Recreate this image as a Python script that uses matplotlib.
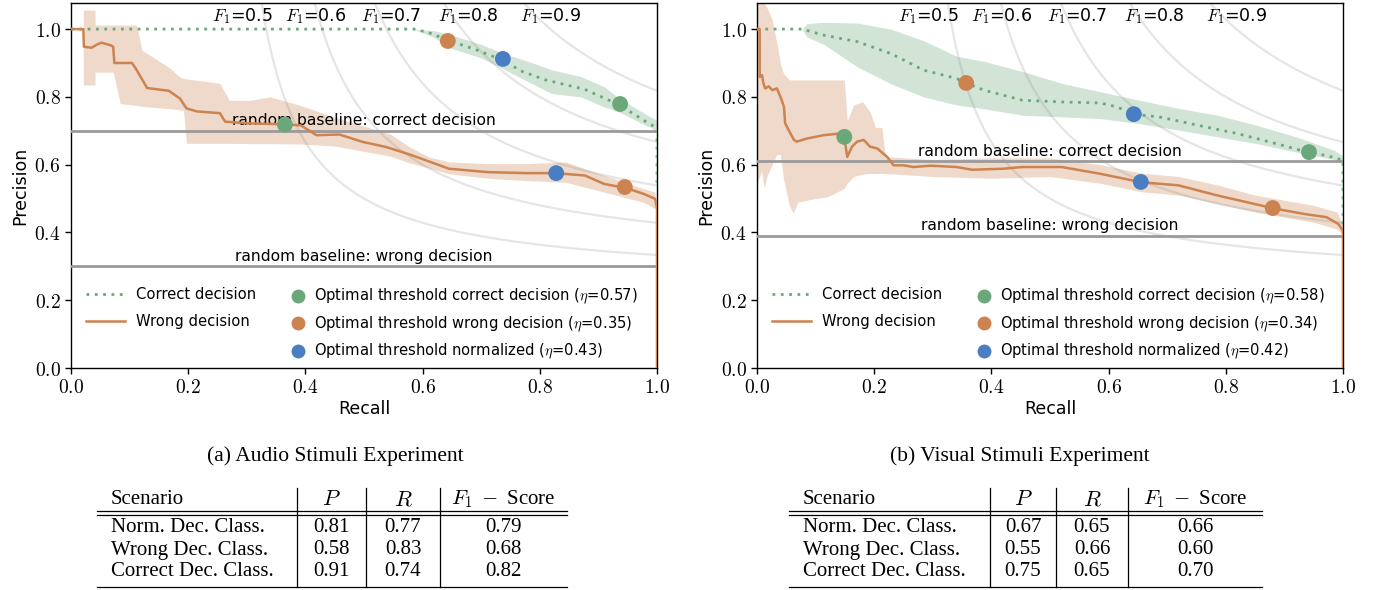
import numpy as np
import matplotlib
matplotlib.use('Agg')
import matplotlib.pyplot as plt
from matplotlib.lines import Line2D
from matplotlib.ticker import FuncFormatter

plt.rcParams['mathtext.fontset'] = 'cm'
plt.rcParams['font.family'] = ['DejaVu Sans']

GREEN = '#6aa87a'
ORANGE = '#cc8350'
BLUE = '#4a7ec2'
BASE = '#9a9a9a'

# ---------------- data: audio experiment ----------------
audio_correct_r = [0.0, 0.585, 0.61, 0.645, 0.69, 0.735, 0.77, 0.81, 0.877, 0.936, 0.977, 0.997, 1.0, 1.0]
audio_correct_p = [1.0, 1.0, 0.99, 0.966, 0.94, 0.909, 0.875, 0.85, 0.822, 0.776, 0.731, 0.711, 0.70, 0.54]
audio_correct_band_r = [0.585, 0.62, 0.645, 0.70, 0.735, 0.78, 0.82, 0.87, 0.91, 0.936, 0.97, 1.0]
audio_correct_hi = [1.0, 0.995, 0.985, 0.955, 0.93, 0.905, 0.88, 0.86, 0.83, 0.795, 0.76, 0.73]
audio_correct_lo = [1.0, 0.975, 0.945, 0.915, 0.885, 0.845, 0.81, 0.80, 0.77, 0.755, 0.725, 0.70]

audio_wrong_r = [0.0, 0.021, 0.022, 0.035, 0.045, 0.052, 0.068, 0.072, 0.074, 0.104, 0.110, 0.130,
                 0.167, 0.186, 0.197, 0.215, 0.254, 0.263, 0.300, 0.365, 0.392, 0.419, 0.458, 0.498,
                 0.538, 0.578, 0.618, 0.645, 0.711, 0.777, 0.826, 0.877, 0.910, 0.947, 0.977, 0.997,
                 1.0, 1.0]
audio_wrong_p = [1.0, 1.0, 0.948, 0.945, 0.955, 0.960, 0.952, 0.948, 0.900, 0.900, 0.885, 0.826,
                 0.818, 0.795, 0.766, 0.757, 0.752, 0.727, 0.722, 0.719, 0.716, 0.687, 0.689, 0.667,
                 0.652, 0.630, 0.605, 0.588, 0.578, 0.575, 0.575, 0.568, 0.543, 0.531, 0.514, 0.499,
                 0.47, 0.0]
audio_wrong_band_r = [0.021, 0.041, 0.041, 0.072, 0.084, 0.112, 0.121, 0.169, 0.186, 0.192, 0.197,
                      0.254, 0.270, 0.305, 0.340, 0.391, 0.450, 0.545, 0.578, 0.611, 0.645, 0.711,
                      0.777, 0.844, 0.910, 0.977, 0.997]
audio_wrong_hi = [1.056, 1.056, 1.012, 1.012, 1.012, 1.012, 0.938, 0.885, 0.858, 0.855, 0.853,
                  0.840, 0.790, 0.790, 0.800, 0.775, 0.740, 0.690, 0.652, 0.623, 0.608, 0.603,
                  0.603, 0.608, 0.568, 0.529, 0.519]
audio_wrong_lo = [0.835, 0.835, 0.873, 0.873, 0.780, 0.775, 0.772, 0.765, 0.762, 0.760, 0.663,
                  0.663, 0.663, 0.662, 0.662, 0.661, 0.655, 0.625, 0.605, 0.590, 0.573, 0.560,
                  0.553, 0.548, 0.519, 0.489, 0.47]
audio_baselines = [0.70, 0.30]
# optimal thresholds (correct, wrong, normalized): points on correct and wrong curve
audio_thr_r = [[0.937, 0.365], [0.643, 0.945], [0.737, 0.828]]
audio_thr_p = [[0.779, 0.718], [0.965, 0.534], [0.912, 0.575]]
audio_eta = [0.57, 0.35, 0.43]

# ---------------- data: visual experiment ----------------
visual_correct_r = [0.0, 0.077, 0.114, 0.171, 0.228, 0.256, 0.284, 0.341, 0.357, 0.387, 0.42,
                    0.453, 0.52, 0.586, 0.613, 0.645, 0.686, 0.753, 0.819, 0.886, 0.943, 0.972,
                    1.0, 1.0]
visual_correct_p = [1.0, 1.0, 0.982, 0.963, 0.928, 0.904, 0.879, 0.854, 0.84, 0.82, 0.805,
                    0.79, 0.785, 0.782, 0.771, 0.748, 0.741, 0.716, 0.692, 0.662, 0.635, 0.627,
                    0.613, 0.42]
visual_correct_band_r = [0.077, 0.085, 0.114, 0.171, 0.228, 0.284, 0.341, 0.387, 0.453, 0.52, 0.586,
                         0.653, 0.72, 0.786, 0.853, 0.92, 0.986, 1.0]
visual_correct_hi = [1.0, 1.016, 1.02, 1.018, 1.0, 0.966, 0.92, 0.905, 0.875, 0.84, 0.815, 0.79,
                     0.766, 0.746, 0.716, 0.682, 0.642, 0.625]
visual_correct_lo = [1.0, 0.977, 0.955, 0.889, 0.839, 0.80, 0.776, 0.765, 0.746, 0.741, 0.736,
                     0.721, 0.702, 0.682, 0.662, 0.637, 0.615, 0.61]

visual_wrong_r = [0.0, 0.0045, 0.0046, 0.0085, 0.011, 0.014, 0.020, 0.026, 0.034, 0.040, 0.046,
                  0.048, 0.054, 0.063, 0.068, 0.085, 0.114, 0.142, 0.149, 0.154, 0.162, 0.171,
                  0.182, 0.193, 0.205, 0.222, 0.233, 0.250, 0.267, 0.296, 0.341, 0.367, 0.42,
                  0.453, 0.52, 0.586, 0.656, 0.719, 0.786, 0.882, 0.932, 0.972, 0.992, 1.0, 1.0]
visual_wrong_p = [1.0, 1.0, 0.859, 0.864, 0.84, 0.825, 0.831, 0.82, 0.825, 0.80, 0.771,
                  0.722, 0.702, 0.673, 0.668, 0.677, 0.687, 0.692, 0.68, 0.623, 0.653, 0.668,
                  0.673, 0.653, 0.648, 0.623, 0.598, 0.598, 0.593, 0.597, 0.593, 0.585, 0.588,
                  0.593, 0.593, 0.573, 0.548, 0.539, 0.509, 0.471, 0.455, 0.445, 0.425, 0.405, 0.0]
visual_wrong_band_r = [0.001, 0.008, 0.012, 0.018, 0.026, 0.034, 0.040, 0.045, 0.055, 0.062, 0.070,
                       0.10, 0.12, 0.149, 0.154, 0.165, 0.18, 0.193, 0.202, 0.213, 0.219, 0.30,
                       0.40, 0.50, 0.586, 0.656, 0.72, 0.786, 0.85, 0.9, 0.95, 0.99, 1.0]
visual_wrong_hi = [1.077, 1.077, 1.077, 1.06, 1.027, 0.957, 0.898, 0.87, 0.85, 0.85, 0.85, 0.85,
                   0.85, 0.85, 0.73, 0.776, 0.786, 0.756, 0.71, 0.71, 0.624, 0.615, 0.62, 0.62,
                   0.60, 0.575, 0.565, 0.54, 0.51, 0.495, 0.48, 0.46, 0.42]
visual_wrong_lo = [0.55, 0.58, 0.53, 0.57, 0.60, 0.63, 0.63, 0.56, 0.48, 0.457, 0.49, 0.50, 0.505,
                   0.53, 0.545, 0.565, 0.572, 0.574, 0.574, 0.574, 0.574, 0.565, 0.56, 0.565,
                   0.545, 0.52, 0.51, 0.485, 0.46, 0.445, 0.43, 0.41, 0.39]
visual_baselines = [0.61, 0.39]
visual_thr_r = [[0.942, 0.149], [0.357, 0.88], [0.643, 0.655]]
visual_thr_p = [[0.637, 0.682], [0.841, 0.472], [0.749, 0.549]]
visual_eta = [0.58, 0.34, 0.42]

# ---------------- tables ----------------
scenarios = ['Norm. Dec. Class.', 'Wrong Dec. Class.', 'Correct Dec. Class.']
audio_P = [0.81, 0.58, 0.91]
audio_R = [0.77, 0.83, 0.74]
audio_F1 = [0.79, 0.68, 0.82]
visual_P = [0.67, 0.55, 0.75]
visual_R = [0.65, 0.66, 0.65]
visual_F1 = [0.66, 0.60, 0.70]

f_scores = [0.5, 0.6, 0.7, 0.8, 0.9]
f_label_x = [0.293, 0.418, 0.545, 0.678, 0.818]

W, H = 1382, 590
fig = plt.figure(figsize=(W / 100, H / 100), dpi=100)


def panel(ax, c_r, c_p, cb_r, cb_lo, cb_hi, w_r, w_p, wb_r, wb_lo, wb_hi, baselines, thr_r, thr_p, etas):
    ax.fill_between(cb_r, cb_lo, cb_hi, color=GREEN, alpha=0.3, lw=0, zorder=1)
    ax.fill_between(wb_r, wb_lo, wb_hi, color=ORANGE, alpha=0.3, lw=0, zorder=1)

    x = np.linspace(0.01, 1, 300)
    for f in f_scores:
        y = f * x / (2 * x - f)
        m = (y >= 0) & (2 * x - f > 0)
        ax.plot(x[m], y[m], color='gray', alpha=0.2, lw=1.6, zorder=2)
    for f, lx in zip(f_scores, f_label_x):
        ax.text(lx, 1.04, r'$F_1$=%.1f' % f, fontsize=12.5, ha='center', va='center', zorder=3)

    ax.axhline(baselines[0], color=BASE, lw=2, zorder=3)
    ax.axhline(baselines[1], color=BASE, lw=2, zorder=3)
    ax.text(0.5, baselines[0] + 0.008, 'random baseline: correct decision', fontsize=11.2,
            ha='center', va='bottom', zorder=4)
    ax.text(0.5, baselines[1] + 0.008, 'random baseline: wrong decision', fontsize=11.2,
            ha='center', va='bottom', zorder=4)

    l1, = ax.plot(c_r, c_p, color=GREEN, lw=2, ls=(0, (1, 2)), zorder=5)
    l2, = ax.plot(w_r, w_p, color=ORANGE, lw=1.8, zorder=5)

    cols = [GREEN, ORANGE, BLUE]
    names = ['Optimal threshold correct decision', 'Optimal threshold wrong decision',
             'Optimal threshold normalized']
    handles = []
    for col, rr, pp, name, eta in zip(cols, thr_r, thr_p, names, etas):
        ax.scatter(rr, pp, s=130, color=col, edgecolors='none', zorder=6)
        handles.append(Line2D([], [], ls='none', marker='o', ms=9, color=col,
                              label=name + r' ($\eta$=%.2f)' % eta))

    l1.set_label('Correct decision')
    l2.set_label('Wrong decision')
    leg1 = ax.legend(handles=[l1, l2], loc='upper left', bbox_to_anchor=(0.026, 0.222),
                     frameon=False, fontsize=10.6, handlelength=2.6, handletextpad=0.8,
                     labelspacing=0.8, borderpad=0, borderaxespad=0)
    ax.add_artist(leg1)
    ax.legend(handles=handles, loc='upper left', bbox_to_anchor=(0.375, 0.222),
              frameon=False, fontsize=10.6, handlelength=1.0, handletextpad=0.6,
              labelspacing=0.55, borderpad=0, borderaxespad=0)

    ax.set_xlim(0, 1)
    ax.set_ylim(0, 1.077)
    ax.set_xticks(np.arange(0, 1.01, 0.2))
    ax.set_yticks(np.arange(0, 1.01, 0.2))
    fmt = FuncFormatter(lambda v, p: r'$%.1f$' % v)
    ax.xaxis.set_major_formatter(fmt)
    ax.yaxis.set_major_formatter(fmt)
    ax.tick_params(labelsize=14, length=4, width=1, direction='out')
    ax.set_xlabel('Recall', fontsize=12.5, labelpad=2)
    ax.set_ylabel('Precision', fontsize=12.5, labelpad=4)
    for s in ax.spines.values():
        s.set_linewidth(1.0)


ax1 = fig.add_axes([71 / W, 1 - 368 / H, 586 / W, 365 / H])
panel(ax1, audio_correct_r, audio_correct_p, audio_correct_band_r, audio_correct_lo, audio_correct_hi,
      audio_wrong_r, audio_wrong_p, audio_wrong_band_r, audio_wrong_lo, audio_wrong_hi,
      audio_baselines, audio_thr_r, audio_thr_p, audio_eta)

ax2 = fig.add_axes([757 / W, 1 - 368 / H, 586 / W, 365 / H])
panel(ax2, visual_correct_r, visual_correct_p, visual_correct_band_r, visual_correct_lo, visual_correct_hi,
      visual_wrong_r, visual_wrong_p, visual_wrong_band_r, visual_wrong_lo, visual_wrong_hi,
      visual_baselines, visual_thr_r, visual_thr_p, visual_eta)

SERIF = 'Liberation Serif'
TS = 15


def fx(px):
    return px / W


def fy(py):
    return 1 - py / H


def hline(x0, x1, y, lw=0.9):
    fig.add_artist(Line2D([fx(x0), fx(x1)], [fy(y), fy(y)], color='black', lw=lw,
                          transform=fig.transFigure))


def vline(x, y0, y1, lw=0.9):
    fig.add_artist(Line2D([fx(x), fx(x)], [fy(y0), fy(y1)], color='black', lw=lw,
                          transform=fig.transFigure))


def table(x_rule0, x_text, seps, x_end, P, R, F1):
    hline(x_rule0, x_end, 511)
    hline(x_rule0, x_end, 514.5)
    hline(x_rule0, x_end, 587)
    for s in seps:
        vline(s, 488, 587)
    centers = [(seps[0] + seps[1]) / 2, (seps[1] + seps[2]) / 2, (seps[2] + x_end) / 2]
    hy = 499
    fig.text(fx(x_text), fy(hy), 'Scenario', family=SERIF, fontsize=TS, va='center')
    fig.text(fx(centers[0]), fy(hy), r'$P$', fontsize=16, ha='center', va='center')
    fig.text(fx(centers[1]), fy(hy), r'$R$', fontsize=16, ha='center', va='center')
    fig.text(fx(centers[2]), fy(hy), r'$F_1\;-\;$Score', family=SERIF, fontsize=TS,
             ha='center', va='center')
    for i, (name, p, r, f) in enumerate(zip(scenarios, P, R, F1)):
        yy = [527, 550, 572][i]
        fig.text(fx(x_text), fy(yy), name, family=SERIF, fontsize=TS, va='center')
        for c, v in zip(centers, [p, r, f]):
            fig.text(fx(c), fy(yy), '%.2f' % v, family=SERIF, fontsize=TS, ha='center', va='center')


table(97, 111, [297, 366, 440], 567, audio_P, audio_R, audio_F1)
table(789, 803, [990, 1056, 1128], 1262, visual_P, visual_R, visual_F1)

fig.text(fx(335), fy(456), '(a) Audio Stimuli Experiment', family=SERIF, fontsize=15.5,
         ha='center', va='center')
fig.text(fx(1020), fy(456), '(b) Visual Stimuli Experiment', family=SERIF, fontsize=15.5,
         ha='center', va='center')

fig.savefig('out.png', dpi=100)
